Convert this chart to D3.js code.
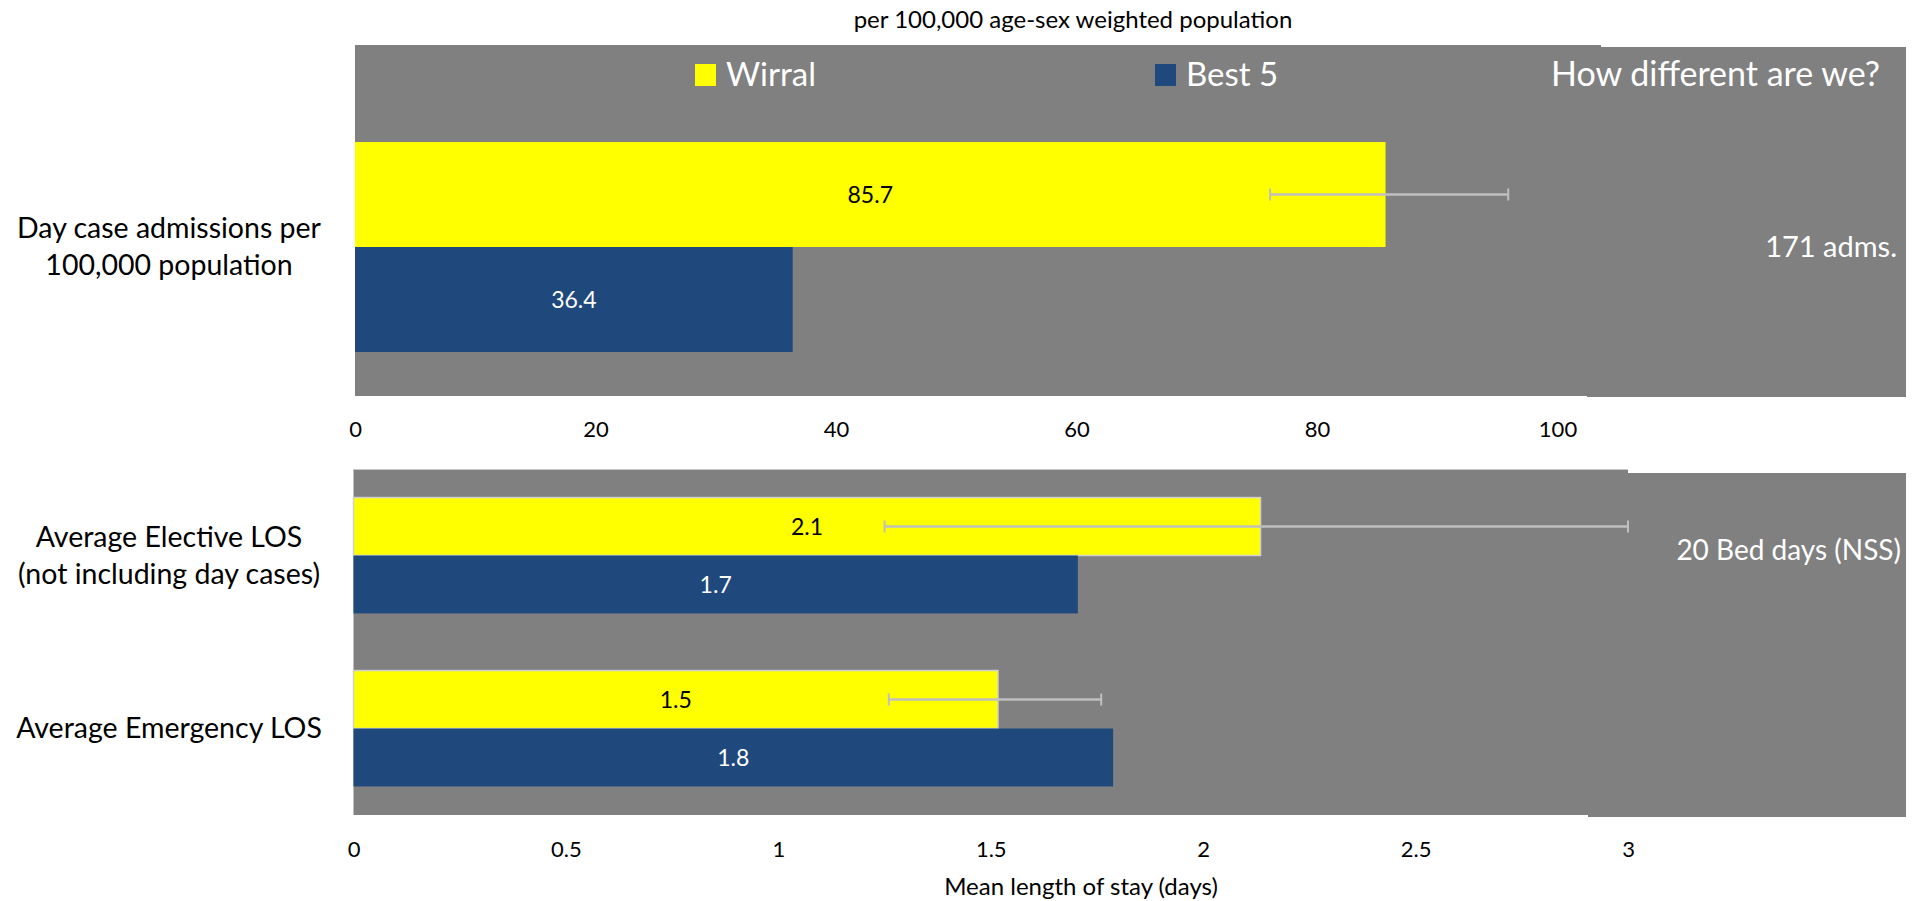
<!DOCTYPE html>
<html>
<head>
<meta charset="utf-8">
<script src="https://cdn.jsdelivr.net/npm/d3@7"></script>
<style>
  html, body { margin: 0; padding: 0; background: #ffffff; }
  svg { display: block; font-family: Lato, "Open Sans", sans-serif; }
</style>
</head>
<body>
<svg id="chart" width="1918" height="901"></svg>
<script>
// ---------------- data ----------------
const seriesNames = ["Wirral", "Best 5"];
const seriesColors = ["#FFFF00", "#1F497D"];

const topCategories = ["Day case admissions per 100,000 population"];
const topCategoryLines = [["Day case admissions per", "100,000 population"]];
const topWirral = [85.7];
const topBest5 = [36.4];
const topErrLow = [76.1];
const topErrHigh = [95.9];
const topTicks = [0, 20, 40, 60, 80, 100];

const bottomCategories = ["Average Elective LOS (not including day cases)", "Average Emergency LOS"];
const bottomCategoryLines = [["Average Elective LOS", "(not including day cases)"], ["Average Emergency LOS"]];
const bottomWirral = [2.135, 1.517];
const bottomBest5 = [1.705, 1.788];
const bottomErrLow = [1.25, 1.26];
const bottomErrHigh = [3.0, 1.76];
const bottomTicks = [0, 0.5, 1, 1.5, 2, 2.5, 3];

const titleText = "per 100,000 age-sex weighted population";
const sideHeader = "How different are we?";
const sideNotes = ["171 adms.", "20 Bed days (NSS)"];
const bottomAxisTitle = "Mean length of stay (days)";

// ---------------- drawing ----------------
const svg = d3.select("#chart");
const GRAY = "#808080";
const ERR = "#bfbfbf";
const fmt = d3.format(".1f");

// panels (backgrounds)
const topPanel = {x0: 355, x1: 1601, y0: 45, y1: 396};
const botPanel = {x0: 353.5, x1: 1628, y0: 469, y1: 815};

svg.append("rect").attr("x", topPanel.x0).attr("y", topPanel.y0)
  .attr("width", topPanel.x1 - topPanel.x0).attr("height", topPanel.y1 - topPanel.y0).attr("fill", GRAY);
svg.append("rect").attr("x", botPanel.x0).attr("y", botPanel.y0)
  .attr("width", botPanel.x1 - botPanel.x0).attr("height", botPanel.y1 - botPanel.y0).attr("fill", GRAY);
svg.append("line").attr("x1", botPanel.x0).attr("x2", botPanel.x1).attr("y1", botPanel.y0 + 0.5).attr("y2", botPanel.y0 + 0.5)
  .attr("stroke", "#c8c8c8").attr("stroke-width", 1);
// side boxes
svg.append("rect").attr("x", 1587).attr("y", 47).attr("width", 319).attr("height", 350).attr("fill", GRAY);
svg.append("rect").attr("x", 1588).attr("y", 473).attr("width", 318).attr("height", 344).attr("fill", GRAY);

// title
svg.append("text").attr("x", 1073).attr("y", 28).attr("text-anchor", "middle")
  .attr("font-size", 24).attr("fill", "#000").text(titleText);

// legend
const legendX = [695, 1155];
seriesNames.forEach((name, i) => {
  svg.append("rect").attr("x", legendX[i]).attr("y", 64).attr("width", 21).attr("height", 22).attr("fill", seriesColors[i]);
  svg.append("text").attr("x", legendX[i] + 31).attr("y", 86).attr("font-size", 33).attr("fill", "#fff").text(name);
});
svg.append("text").attr("x", 1880).attr("y", 86).attr("text-anchor", "end")
  .attr("font-size", 34).attr("fill", "#fff").text(sideHeader);

function drawPanel(opts) {
  const {categories, lines, wirral, best5, errLow, errHigh, x, yRange, padInner, padOuter, outline} = opts;
  const y = d3.scaleBand().domain(categories).range(yRange).paddingInner(padInner).paddingOuter(padOuter);
  const ySub = d3.scaleBand().domain(seriesNames).range([0, y.bandwidth()]);
  const rows = categories.map((c, i) => ({c, i, vals: [wirral[i], best5[i]], lo: errLow[i], hi: errHigh[i]}));
  const g = svg.append("g");
  rows.forEach(r => {
    r.vals.forEach((v, s) => {
      const name = seriesNames[s];
      const yy = y(r.c) + ySub(name);
      g.append("rect").attr("x", x(0)).attr("y", yy)
        .attr("width", x(v) - x(0)).attr("height", ySub.bandwidth())
        .attr("fill", seriesColors[s])
        .attr("stroke", (outline && s === 0) ? "#d0d0d0" : "none")
        .attr("stroke-width", 1.5);
      g.append("text").attr("x", (x(0) + x(v)) / 2).attr("y", yy + ySub.bandwidth() / 2)
        .attr("dy", "0.35em").attr("text-anchor", "middle").attr("font-size", 23)
        .attr("fill", s === 0 ? "#000" : "#fff").text(fmt(v));
    });
    // error bar on Wirral bar
    const ey = y(r.c) + ySub(seriesNames[0]) + ySub.bandwidth() / 2;
    g.append("line").attr("x1", x(r.lo)).attr("x2", x(r.hi)).attr("y1", ey).attr("y2", ey)
      .attr("stroke", ERR).attr("stroke-width", 2.5);
    [r.lo, r.hi].forEach(e => {
      g.append("line").attr("x1", x(e)).attr("x2", x(e)).attr("y1", ey - 6).attr("y2", ey + 6)
        .attr("stroke", ERR).attr("stroke-width", 2);
    });
    // category label
    const cy = y(r.c) + y.bandwidth() / 2;
    const ls = lines[r.i];
    const lh = 37;
    ls.forEach((t, k) => {
      svg.append("text").attr("x", 169).attr("y", cy + (k - (ls.length - 1) / 2) * lh)
        .attr("dy", "0.35em").attr("text-anchor", "middle").attr("font-size", 28.5)
        .attr("fill", "#000").text(t);
    });
  });
  return y;
}

const xTop = d3.scaleLinear().domain([0, 100]).range([355, 1557.5]);
const xBot = d3.scaleLinear().domain([0, 3]).range([353.5, 1628]);

const yTop = drawPanel({categories: topCategories, lines: topCategoryLines, wirral: topWirral, best5: topBest5,
  errLow: topErrLow, errHigh: topErrHigh, x: xTop, yRange: [98, 396], padInner: 0, padOuter: 0.2095, outline: false});
const yBot = drawPanel({categories: bottomCategories, lines: bottomCategoryLines, wirral: bottomWirral, best5: bottomBest5,
  errLow: bottomErrLow, errHigh: bottomErrHigh, x: xBot, yRange: [469, 815], padInner: 0.33, padOuter: 0.165, outline: true});

// side notes
svg.append("text").attr("x", 1897).attr("y", yTop(topCategories[0]) + yTop.bandwidth() / 2)
  .attr("dy", "0.35em").attr("text-anchor", "end").attr("font-size", 29).attr("fill", "#fff").text(sideNotes[0]);
svg.append("text").attr("x", 1901).attr("y", 550)
  .attr("dy", "0.35em").attr("text-anchor", "end").attr("font-size", 28).attr("fill", "#fff").text(sideNotes[1]);

// axes
const axTop = d3.axisBottom(xTop).tickValues(topTicks).tickSize(0).tickPadding(25).tickFormat(d3.format("d"));
const gTop = svg.append("g").attr("transform", "translate(0,396)").call(axTop);
gTop.select(".domain").remove();
gTop.selectAll("text").attr("font-size", 22).attr("font-family", "Lato, sans-serif").attr("fill", "#000");

const axBot = d3.axisBottom(xBot).tickValues(bottomTicks).tickSize(0).tickPadding(26).tickFormat(d => String(d));
const gBot = svg.append("g").attr("transform", "translate(0,815)").call(axBot);
gBot.select(".domain").remove();
gBot.selectAll("text").attr("font-size", 22).attr("font-family", "Lato, sans-serif").attr("fill", "#000");

svg.append("text").attr("x", 1081).attr("y", 895).attr("text-anchor", "middle")
  .attr("font-size", 24).attr("fill", "#000").text(bottomAxisTitle);
</script>
</body>
</html>
